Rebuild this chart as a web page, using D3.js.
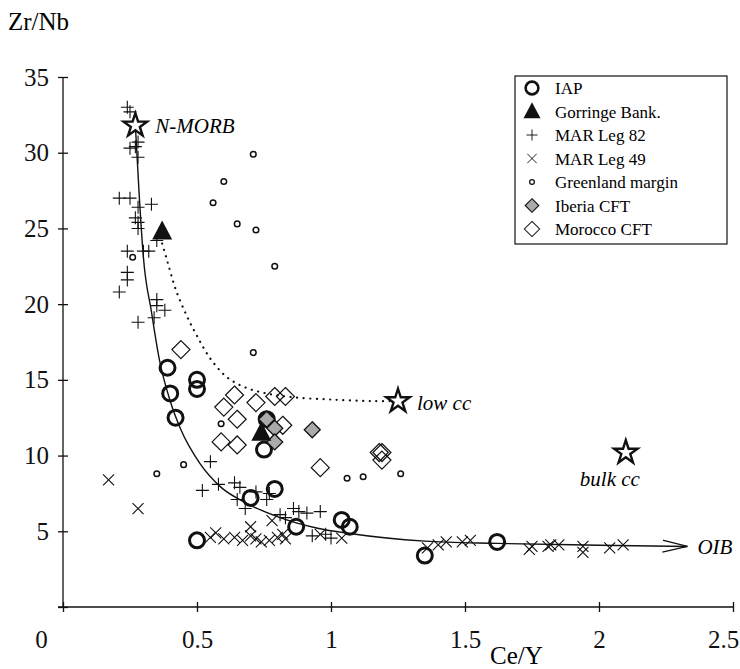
<!DOCTYPE html>
<html lang="en">
<head>
<meta charset="UTF-8">
<title>Zr/Nb vs Ce/Y</title>
<script src="https://d3js.org/d3.v7.min.js"></script>
<style>
    body { margin: 0; background: #fff; }
    svg, svg text { font-family: "Liberation Serif", "Times New Roman", Times, Tinos, "Nimbus Roman", "DejaVu Serif", "Noto Serif", FreeSerif, serif; }
    .axis path, .axis line { stroke: #111; stroke-width: 1.3; }
    .axis text { font-size: 25px; fill: #111; }
</style>
</head>
<body>
<div class="viz"></div>
<script>
// ---- data (Ce/Y, Zr/Nb) ----
const iap = [[0.39,15.8],[0.40,14.1],[0.50,15.0],[0.50,14.4],[0.42,12.5],[0.76,12.4],[0.75,10.4],
    [0.70,7.2],[0.79,7.8],[0.50,4.4],[0.87,5.3],[1.04,5.75],[1.07,5.3],[1.35,3.4],[1.62,4.3]];
const gorringe = [[0.37,24.8],[0.74,11.5]];
const marLeg82 = [[0.24,33.0],[0.25,32.7],[0.28,30.7],[0.25,30.3],[0.27,30.4],[0.28,29.7],
    [0.21,27.0],[0.25,27.0],[0.28,26.4],[0.33,26.6],[0.27,25.7],[0.28,25.4],[0.28,25.0],
    [0.35,24.2],[0.24,23.5],[0.30,23.5],[0.32,23.5],[0.24,22.1],[0.24,21.6],[0.21,20.8],
    [0.35,20.3],[0.35,19.9],[0.38,19.6],[0.34,19.1],[0.28,18.8],
    [0.55,9.6],[0.52,7.7],[0.58,8.1],[0.64,8.2],[0.66,7.9],[0.65,7.1],[0.68,6.5],[0.76,7.1],
    [0.77,7.5],[0.72,7.6],[0.81,6.1],[0.86,6.5],[0.88,6.3],[0.91,6.2],[0.96,6.3],[0.83,5.9],
    [0.93,4.7],[0.98,4.8],[1.00,4.55]];
const marLeg49 = [[0.17,8.4],[0.28,6.5],[0.55,4.6],[0.57,4.9],[0.60,4.5],[0.64,4.6],[0.67,4.4],
    [0.70,4.7],[0.72,4.5],[0.74,4.3],[0.77,4.4],[0.80,4.6],[0.82,4.8],[0.83,4.5],[0.78,5.7],
    [0.70,5.3],[0.96,4.8],[1.04,4.55],[1.36,3.9],[1.40,4.1],[1.43,4.3],[1.49,4.3],[1.52,4.4],
    [1.74,3.8],[1.75,4.0],[1.81,4.0],[1.82,4.1],[1.85,4.1],[1.94,4.0],[1.94,3.6],[2.04,3.9],[2.09,4.1]];
const greenland = [[0.71,29.9],[0.60,28.1],[0.56,26.7],[0.65,25.3],[0.72,24.9],[0.79,22.5],
    [0.71,16.8],[0.26,23.1],[0.59,12.1],[0.45,9.4],[0.35,8.8],[1.06,8.5],[1.12,8.6],[1.26,8.8]];
const iberia = [[0.76,12.4],[0.79,11.8],[0.79,10.9],[0.93,11.7]];
const morocco = [[0.44,17.0],[0.64,14.0],[0.60,13.2],[0.72,13.5],[0.79,13.9],[0.83,13.9],
    [0.65,12.4],[0.59,10.9],[0.65,10.7],[0.82,12.0],[0.96,9.2],[1.18,10.2],[1.19,9.7],[1.19,10.2]];

const stars = [
    {name: "N-MORB", x: 0.27, y: 31.8},
    {name: "low cc", x: 1.25, y: 13.6},
    {name: "bulk cc", x: 2.10, y: 10.2}
];
// mixing curve N-MORB -> OIB, and dotted curve Gorringe -> low cc
const mixCurve = [[0.27,31.8],[0.285,27],[0.30,23.1],[0.33,19.5],[0.36,16.3],[0.40,13.6],
    [0.44,11.7],[0.51,9.5],[0.59,7.9],[0.68,6.9],[0.81,5.9],[0.95,5.2],[1.07,4.85],
    [1.35,4.35],[1.62,4.2],[2.0,4.08],[2.33,4.0]];
const dotCurve = [[0.37,24.0],[0.39,22.8],[0.42,21.0],[0.46,19.3],[0.50,17.9],[0.55,16.4],
    [0.61,15.2],[0.68,14.5],[0.76,14.1],[0.86,13.85],[1.0,13.7],[1.15,13.6],[1.24,13.6]];

const xTicks = [0, 0.5, 1, 1.5, 2, 2.5];
const yTicks = [0, 5, 10, 15, 20, 25, 30, 35];
const legendItems = ["IAP", "Gorringe Bank.", "MAR Leg 82", "MAR Leg 49", "Greenland margin", "Iberia CFT", "Morocco CFT"];

// ---- drawing ----
const width = 740, height = 669;
const svg = d3.select(".viz").append("svg").attr("width", width).attr("height", height);

const x = d3.scaleLinear().domain([0, 2.5]).range([63, 733]);
const y = d3.scaleLinear().domain([0, 35]).range([607, 77]);

// axes
const yAxis = svg.append("g").attr("class", "axis")
    .attr("transform", `translate(${x(0)},0)`)
    .call(d3.axisLeft(y).tickValues(yTicks).tickSize(5).tickPadding(9)
        .tickFormat(d => d === 0 ? "" : d));
yAxis.attr("font-family", null);
yAxis.selectAll(".tick line").attr("x1", 5);
yAxis.select(".domain").attr("d", `M0,${y(0)}V${y(35)}`);

const xAxis = svg.append("g").attr("class", "axis")
    .attr("transform", `translate(0,${y(0)})`)
    .call(d3.axisBottom(x).tickValues(xTicks).tickSize(5).tickPadding(18)
        .tickFormat(d => d));
xAxis.attr("font-family", null);
xAxis.selectAll(".tick line").attr("y1", -5);
xAxis.select(".domain").attr("d", `M${x(0) - 5},0H${x(2.5)}`);
xAxis.selectAll(".tick text").attr("dx", d => d === 0 ? -22 : d === 2.5 ? -10 : 0);

svg.append("text").attr("x", 8).attr("y", 30)
    .style("font-size", "25px").text("Zr/Nb");
svg.append("text").attr("x", 490).attr("y", 664)
    .style("font-size", "25px").text("Ce/Y");

// curves
svg.append("defs").append("marker")
    .attr("id", "arrow").attr("viewBox", "0 -7 26 14")
    .attr("refX", 25).attr("refY", 0)
    .attr("markerWidth", 26).attr("markerHeight", 14)
    .attr("markerUnits", "userSpaceOnUse").attr("orient", "auto")
    .append("path").attr("d", "M0,-6L25,0L0,6")
    .attr("fill", "none").attr("stroke", "#111").attr("stroke-width", 1.3);

const line = d3.line().x(d => x(d[0])).y(d => y(d[1])).curve(d3.curveMonotoneX);
svg.append("path").datum(mixCurve).attr("d", line)
    .attr("fill", "none").attr("stroke", "#111").attr("stroke-width", 1.4)
    .attr("marker-end", "url(#arrow)");
svg.append("path").datum(dotCurve).attr("d", line.curve(d3.curveCatmullRom))
    .attr("fill", "none").attr("stroke", "#111").attr("stroke-width", 2.2)
    .attr("stroke-linecap", "round").attr("stroke-dasharray", "0.1,6.5");

// symbol helpers
const sym = {
    circle: g => g.append("circle").attr("r", 7.5).attr("fill", "none").attr("stroke", "#111").attr("stroke-width", 3),
    triangle: g => g.append("path").attr("d", "M0,-11L10,8L-10,8Z").attr("fill", "#111"),
    plus: g => g.append("path").attr("d", "M-6.5,0H6.5M0,-6.5V6.5").attr("stroke", "#111").attr("stroke-width", 1.1),
    cross: g => g.append("path").attr("d", "M-5.5,-5.5L5.5,5.5M-5.5,5.5L5.5,-5.5").attr("stroke", "#111").attr("stroke-width", 1.1),
    small: g => g.append("circle").attr("r", 2.8).attr("fill", "#fff").attr("stroke", "#111").attr("stroke-width", 1.5),
    grey: g => g.append("path").attr("d", "M0,-8L8,0L0,8L-8,0Z").attr("fill", "#aaa").attr("stroke", "#111").attr("stroke-width", 1.3),
    diamond: g => g.append("path").attr("d", "M0,-9L9,0L0,9L-9,0Z").attr("fill", "none").attr("stroke", "#111").attr("stroke-width", 1.2)
};

function plot(data, kind) {
    svg.append("g").selectAll("g").data(data).join("g")
        .attr("transform", d => `translate(${x(d[0])},${y(d[1])})`)
        .each(function () { sym[kind](d3.select(this)); });
}
plot(greenland, "small");
plot(marLeg82, "plus");
plot(marLeg49, "cross");
plot(morocco, "diamond");
plot(iap, "circle");
plot(iberia, "grey");
plot(gorringe, "triangle");

// end-member stars
const star = d3.symbol().type(d3.symbolStar).size(170);
svg.append("g").selectAll("path").data(stars).join("path")
    .attr("transform", d => `translate(${x(d.x)},${y(d.y)})`)
    .attr("d", star).attr("fill", "#fff").attr("stroke", "#111").attr("stroke-width", 2.4);

const labels = [
    {t: "N-MORB", x: 0.27, y: 31.8, dx: 20, dy: 8},
    {t: "low cc", x: 1.25, y: 13.6, dx: 19, dy: 9},
    {t: "bulk cc", x: 2.10, y: 10.2, dx: -46, dy: 33},
    {t: "OIB", x: 2.33, y: 4.0, dx: 10, dy: 8}
];
svg.append("g").selectAll("text").data(labels).join("text")
    .attr("x", d => x(d.x) + d.dx).attr("y", d => y(d.y) + d.dy)
    .style("font-size", "21px").style("font-style", "italic").text(d => d.t);

// legend
const lg = svg.append("g").attr("transform", "translate(515,76)");
lg.append("rect").attr("width", 212).attr("height", 168)
    .attr("fill", "#fff").attr("stroke", "#111").attr("stroke-width", 1.2);
const kinds = ["circle", "triangle", "plus", "cross", "small", "grey", "diamond"];
const row = lg.selectAll("g").data(legendItems).join("g")
    .attr("transform", (d, i) => `translate(0,${12 + i * 23.5})`);
row.each(function (d, i) {
    const s = d3.select(this).append("g").attr("transform", "translate(17,0) scale(0.85)");
    sym[kinds[i]](s);
});
row.append("text").attr("x", 40).attr("y", 6).style("font-size", "17px").text(d => d);
</script>
</body>
</html>
